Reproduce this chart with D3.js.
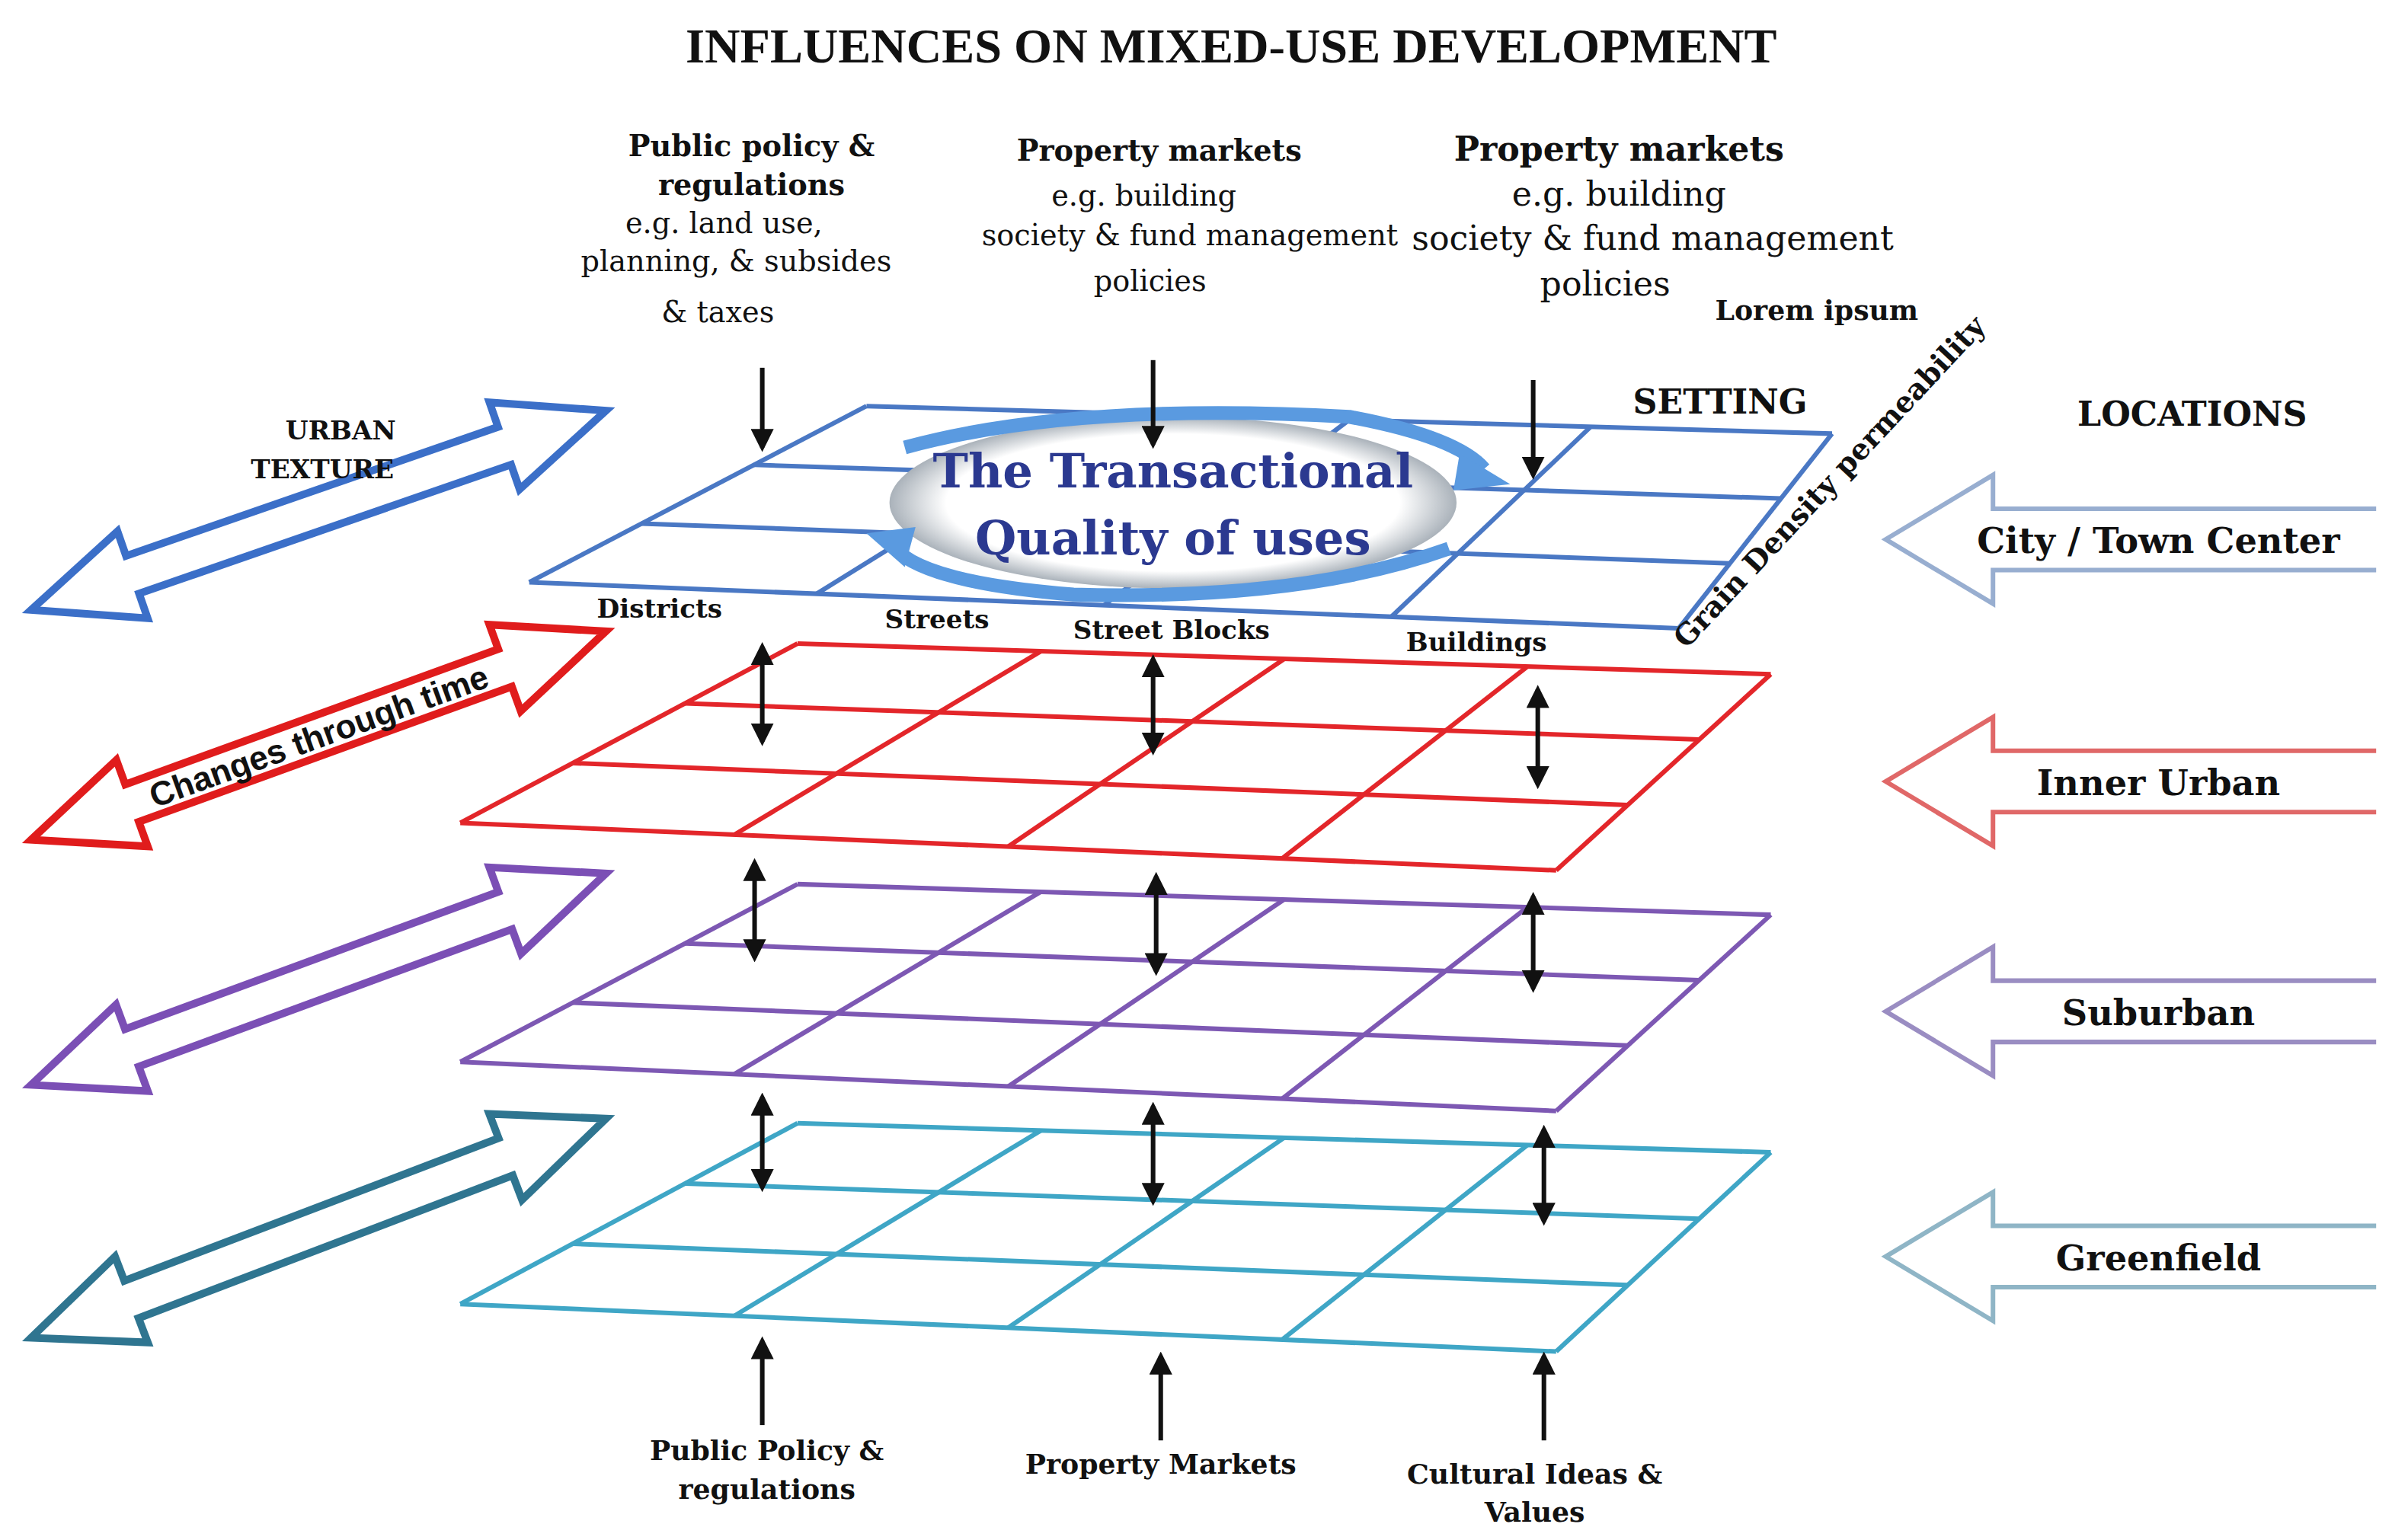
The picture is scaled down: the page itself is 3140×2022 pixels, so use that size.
<!DOCTYPE html>
<html><head><meta charset="utf-8">
<script src="https://cdn.jsdelivr.net/npm/d3@7"></script>
<style>body{margin:0;background:#fff}</style></head>
<body><svg id="c" width="3140" height="2022" viewBox="0 0 1560 1005"></svg>
<script>
const layerNames=["Setting","Inner Urban","Suburban","Greenfield"];
const layerColors=["#4a78c4","#e3262a","#7d58b3","#3fa6c6"];
const layerCorners=[ // TL, TR, BR, BL
 [[565,265],[1195,283],[1095,410],[345,380]],
 [[520,420],[1155,440],[1015,568],[300,537]],
 [[520,577],[1155,597],[1015,725],[300,693]],
 [[520,733],[1155,752],[1015,882],[300,851]]];
const colTicks=[0,0.25,0.5,0.75,1];
const rowTicks=[0,1/3,2/3,1];
const leftArrowColors=["#3b6fc8","#e01c1c","#7b4fb5","#2f7590"];
const leftArrowEnds=[[[20,398],[395,268]],[[20,548],[395,412]],[[20,708],[395,570]],[[20,873],[395,730]]];
const locations=["City / Town Center","Inner Urban","Suburban","Greenfield"];
const locY=[352,510,660,820];
const locColors=["#98aed0","#e06868","#9a8dc2","#8fb5c6"];
const topLabels=[
 {x:490,y:[102,127],b:["Public policy &","regulations"],r:["e.g. land use,","planning, & subsides","& taxes"],ry:[152,177,210],rx:[472,480,468],s:19},
 {x:756,y:[105],b:["Property markets"],r:["e.g. building","society & fund management","policies"],ry:[134,160,190],rx:[746,776,750],s:19},
 {x:1056,y:[105],b:["Property markets"],r:["e.g. building","society & fund management","policies"],ry:[134,163,193],rx:[1056,1078,1047],s:22}];
const gridLabels=[["Districts",430,398],["Streets",611,405],["Street Blocks",764,412],["Buildings",963,420]];
const bottomLabels=[[["Public Policy &","regulations"],500,948],[["Property Markets"],757,957],[["Cultural Ideas &","Values"],1001,963]];
const downArrows=[[497,240,292],[752,235,290],[1000,248,310]];
const upArrows=[[497,930,875],[757,940,885],[1007,940,885]];
const dblArrows=[[497,422,484],[752,430,490],[1003,450,512],[492,563,625],[754,572,634],[1000,585,645],[497,716,775],[752,722,784],[1007,737,797]];

const svg=d3.select("#c");
const defs=svg.append("defs");
const F="'DejaVu Serif', serif";
function mk(id){defs.append("marker").attr("id",id).attr("viewBox","0 0 10 10").attr("refX",8).attr("refY",5)
 .attr("markerWidth",5).attr("markerHeight",5).attr("orient","auto-start-reverse")
 .append("path").attr("d","M0,0L10,5L0,10z").attr("fill","#111");}
mk("ah");
const t=(x,y,s,txt,w="bold",fam=F,anchor="middle")=>svg.append("text").attr("x",x).attr("y",y).attr("font-size",s)
 .attr("font-weight",w).attr("font-family",fam).attr("text-anchor",anchor).attr("fill","#111").text(txt);

t(803,41,32,"INFLUENCES ON MIXED-USE DEVELOPMENT","bold","'Liberation Serif', serif");

const line=d3.line();
layerCorners.forEach((c,i)=>{
 const top=d3.interpolate(c[0],c[1]), bot=d3.interpolate(c[3],c[2]);
 const P=(u,v)=>d3.interpolate(top(u),bot(u))(v);
 const g=svg.append("g").attr("stroke",layerColors[i]).attr("stroke-width",3).attr("fill","none");
 colTicks.forEach(u=>g.append("path").attr("d",line([P(u,0),P(u,1)])));
 rowTicks.forEach(v=>g.append("path").attr("d",line([P(0,v),P(1,v)])));
});

leftArrowEnds.forEach((e,i)=>{
 const [a,b]=e, L=Math.hypot(b[0]-a[0],b[1]-a[1]), ang=Math.atan2(b[1]-a[1],b[0]-a[0])*180/Math.PI;
 const hw=30,sw=13,hl=70;
 const pts=[[0,0],[hl,-hw],[hl,-sw],[L-hl,-sw],[L-hl,-hw],[L,0],[L-hl,hw],[L-hl,sw],[hl,sw],[hl,hw]];
 const g=svg.append("g").attr("transform",`translate(${a[0]},${a[1]}) rotate(${ang})`);
 g.append("path").attr("d",line(pts)+"Z").attr("fill",i==1?"#fff":"none").attr("stroke",leftArrowColors[i]).attr("stroke-width",5).attr("stroke-linejoin","miter");
 if(i==1) g.append("text").attr("x",L/2).attr("y",8).attr("text-anchor","middle").attr("font-size",22).attr("font-weight","bold")
  .attr("font-family","'Liberation Sans Narrow','Liberation Sans',sans-serif").attr("fill","#111").text("Changes through time");
});
t(222,287,17,"URBAN");t(210,312,17,"TEXTURE");

locY.forEach((y,i)=>{
 svg.append("path").attr("d",line([[1550,y-20],[1300,y-20],[1300,y-42],[1230,y],[1300,y+42],[1300,y+20],[1550,y+20]]))
  .attr("fill","none").attr("stroke",locColors[i]).attr("stroke-width",3);
 t(1408,y+9,23,locations[i]);
});
t(1430,278,22,"LOCATIONS");
t(1122,270,22,"SETTING");
t(1185,209,18,"Lorem ipsum");
svg.append("text").attr("transform","translate(1100,424) rotate(-47)").attr("font-size",19).attr("font-weight","bold")
 .attr("font-family",F).attr("fill","#111").text("Grain Density   permeability");

const gr=defs.append("radialGradient").attr("id","og");
gr.append("stop").attr("offset","80%").attr("stop-color","#fff");
gr.append("stop").attr("offset","100%").attr("stop-color","#aab2ba");
svg.append("ellipse").attr("cx",765).attr("cy",328).attr("rx",185).attr("ry",56).attr("fill","url(#og)");
const arc=(d,w)=>svg.append("path").attr("d",d).attr("fill","none").attr("stroke","#5a9ae0").attr("stroke-width",w);
arc("M590,292 Q700,262 880,272 Q950,285 968,306",9);
svg.append("path").attr("d","M952,296 L985,316 L948,320 Z").attr("fill","#5a9ae0");
arc("M945,358 Q850,392 700,388 Q600,380 582,356",9);
svg.append("path").attr("d","M597,344 L565,348 L590,370 Z").attr("fill","#5a9ae0");
[["The Transactional",318],["Quality of uses",362]].forEach(([s,y])=>svg.append("text").attr("x",765).attr("y",y).attr("text-anchor","middle")
 .attr("font-size",31).attr("font-weight","bold").attr("font-family",F).attr("fill","#2b3990").text(s));

topLabels.forEach(l=>{
 l.b.forEach((s,j)=>t(l.x,l.y[j],l.s==22?22:19,s));
 l.r.forEach((s,j)=>t(l.rx[j],l.ry[j],l.s,s,"normal"));
});
gridLabels.forEach(([s,x,y])=>t(x,y+5,17,s));
bottomLabels.forEach(([ls,x,y])=>ls.forEach((s,j)=>t(x,y+5+j*25,18,s)));

const ag=svg.append("g").attr("stroke","#111").attr("stroke-width",3);
downArrows.concat(upArrows).forEach(([x,y1,y2])=>ag.append("line").attr("x1",x).attr("y1",y1).attr("x2",x).attr("y2",y2).attr("marker-end","url(#ah)"));
dblArrows.forEach(([x,y1,y2])=>ag.append("line").attr("x1",x).attr("y1",y1).attr("x2",x).attr("y2",y2).attr("marker-end","url(#ah)").attr("marker-start","url(#ah)"));
</script></body></html>
